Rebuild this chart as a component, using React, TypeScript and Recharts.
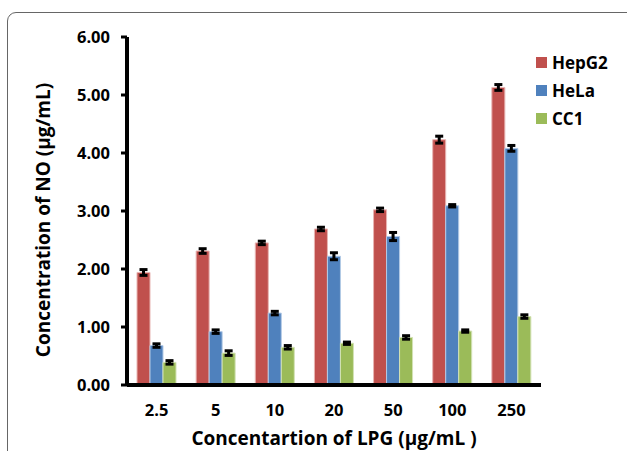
import {
  BarChart,
  Bar,
  ErrorBar,
  XAxis,
  YAxis,
  Legend,
} from "recharts";

const concentrations = ["2.5", "5", "10", "20", "50", "100", "250"];
const seriesNames = ["HepG2", "HeLa", "CC1"];
const hepG2 = [1.94, 2.31, 2.45, 2.69, 3.02, 4.23, 5.13];
const hepG2Err = [0.05, 0.04, 0.03, 0.03, 0.03, 0.06, 0.05];
const heLa = [0.68, 0.92, 1.24, 2.22, 2.56, 3.09, 4.08];
const heLaErr = [0.03, 0.03, 0.03, 0.06, 0.07, 0.02, 0.05];
const cc1 = [0.39, 0.55, 0.65, 0.72, 0.82, 0.93, 1.18];
const cc1Err = [0.03, 0.04, 0.03, 0.02, 0.03, 0.02, 0.03];
const yTicks = [0, 1, 2, 3, 4, 5, 6];

const rows = concentrations.map((c, i) => ({
  conc: c,
  HepG2: hepG2[i],
  hepG2Err: hepG2Err[i],
  HeLa: heLa[i],
  heLaErr: heLaErr[i],
  CC1: cc1[i],
  cc1Err: cc1Err[i],
}));

const FONT = "'Open Sans', sans-serif";
const tickStyle = { fill: "#000", fontSize: 16.5, fontWeight: 700, fontFamily: FONT };
const titleStyle = { fontFamily: FONT, fontWeight: 700, fontSize: 19, fill: "#000" };

function LegendBox(props: any) {
  const items = [...(props.payload || [])].sort(
    (a: any, b: any) => seriesNames.indexOf(a.value) - seriesNames.indexOf(b.value)
  );
  return (
    <div style={{ fontFamily: FONT, fontWeight: 700, fontSize: 17, color: "#000" }}>
      {items.map((it: any) => (
        <div key={it.value} style={{ display: "flex", alignItems: "center", height: 28 }}>
          <span
            style={{ width: 11, height: 11, background: it.color, marginRight: 5, display: "inline-block" }}
          />
          {it.value}
        </div>
      ))}
    </div>
  );
}

export default function App() {
  return (
    <div
      style={{
        position: "absolute",
        left: 0,
        top: 0,
        width: 627,
        height: 451,
        overflow: "hidden",
        background: "#fff",
      }}
    >
      <div
        style={{
          position: "absolute",
          left: 7,
          top: 12,
          width: 640,
          height: 500,
          border: "1.5px solid #666",
          borderRadius: 9,
        }}
      />
      <div style={{ position: "absolute", left: 0, top: 0 }}>
        <BarChart
          width={627}
          height={451}
          data={rows}
          margin={{ top: 37, right: 6, bottom: 26, left: 0 }}
          barSize={13}
          barGap={0}
        >
          <XAxis
            dataKey="conc"
            height={40}
            tickLine={false}
            tickSize={6}
            tickMargin={13}
            axisLine={{ stroke: "#000", strokeWidth: 4 }}
            tick={tickStyle}
            label={{
              content: () => (
                <text x={334} y={438} textAnchor="middle" dominantBaseline="central" style={titleStyle}>
                  Concentartion of LPG (µg/mL )
                </text>
              ),
            }}
          />
          <YAxis
            width={127}
            domain={[0, 6]}
            ticks={yTicks}
            interval={0}
            tickFormatter={(v: number) => v.toFixed(2)}
            tickSize={6}
            tickMargin={11}
            tickLine={{ stroke: "#000", strokeWidth: 3 }}
            axisLine={{ stroke: "#000", strokeWidth: 4 }}
            tick={tickStyle}
            label={{
              content: () => (
                <text
                  x={43}
                  y={220}
                  transform="rotate(-90 43 220)"
                  textAnchor="middle"
                  dominantBaseline="central"
                  style={titleStyle}
                >
                  Concentration of NO (µg/mL)
                </text>
              ),
            }}
          />
          <Legend
            layout="vertical"
            align="right"
            verticalAlign="top"
            content={<LegendBox />}
            wrapperStyle={{ left: 536, top: 48, width: 80 }}
          />
          <Bar dataKey="HepG2" fill="#C0504D" stroke="#E8B5B3" strokeWidth={1} isAnimationActive={false}>
            <ErrorBar dataKey="hepG2Err" width={4} stroke="#000" strokeWidth={3} />
          </Bar>
          <Bar dataKey="HeLa" fill="#4F81BD" stroke="#B3CAE6" strokeWidth={1} isAnimationActive={false}>
            <ErrorBar dataKey="heLaErr" width={4} stroke="#000" strokeWidth={3} />
          </Bar>
          <Bar dataKey="CC1" fill="#9BBB59" stroke="#D3E2B5" strokeWidth={1} isAnimationActive={false}>
            <ErrorBar dataKey="cc1Err" width={4} stroke="#000" strokeWidth={3} />
          </Bar>
        </BarChart>
      </div>
    </div>
  );
}
